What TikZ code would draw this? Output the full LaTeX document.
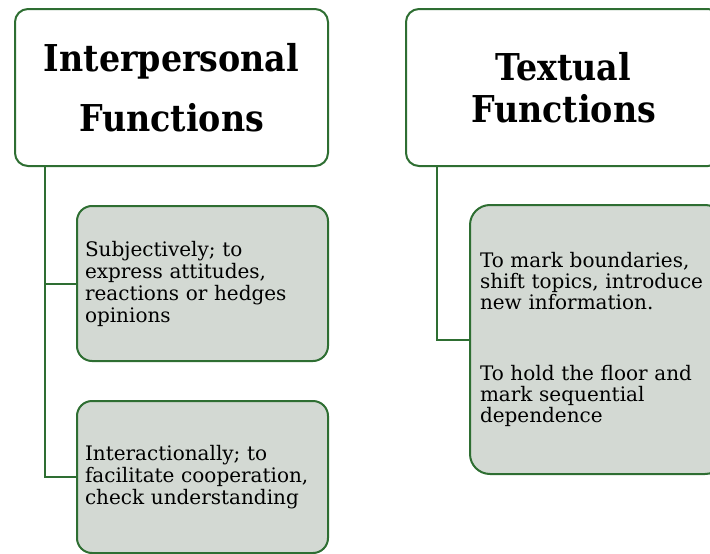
\documentclass[tikz,border=0pt]{standalone}
\usepackage{fontspec}
\setmainfont{DejaVu Serif}
\newfontfamily\headfont{DejaVu Serif Condensed}
\definecolor{edgegreen}{HTML}{2E6E32}
\definecolor{leaffill}{HTML}{D3D9D3}
\begin{document}
\begin{tikzpicture}[x=1pt,y=-1pt,
  headbox/.style={draw=edgegreen,line width=2pt,rounded corners=13pt,fill=white,
    anchor=north west,inner sep=0pt,align=center,
    font=\headfont\bfseries\fontsize{37}{60}\selectfont},
  leafbox/.style={draw=edgegreen,line width=2pt,rounded corners=15pt,fill=leaffill,
    anchor=north west,inner xsep=8pt,inner ysep=0pt,align=left,
    font=\fontsize{20}{22}\selectfont},
  link/.style={draw=edgegreen,line width=2pt}]
  \useasboundingbox (0,0) rectangle (710,554);
  % top-level boxes
  \node[headbox,minimum width=313pt,minimum height=157pt] (h1) at (14,8)
    {Interpersonal\\Functions};
  \node[headbox,minimum width=315pt,minimum height=157pt,
    font=\headfont\bfseries\fontsize{37}{42}\selectfont] (h2) at (405,8)
    {Textual\\Functions};
  % leaf boxes
  \node[leafbox,minimum width=251pt,minimum height=155pt,text width=235pt] (c1) at (76,205)
    {Subjectively; to\\express attitudes,\\reactions or hedges\\opinions};
  \node[leafbox,minimum width=251pt,minimum height=152pt,text width=235pt] (c2) at (76,400)
    {Interactionally; to\\facilitate cooperation,\\check understanding};
  \node[leafbox,minimum width=251pt,minimum height=269pt,text width=235pt,
    rounded corners=20pt,inner xsep=10pt,font=\fontsize{20}{21}\selectfont] (c3) at (469,204)
    {To mark boundaries,\\shift topics, introduce\\new information.\\[50pt]
     To hold the floor and\\mark sequential\\dependence};
  % connectors
  \coordinate (t1) at (45,165);
  \coordinate (t2) at (437,165);
  \draw[link] (t1) |- (c2.west);
  \draw[link] (t1 |- c1.west) -- (c1.west);
  \draw[link] (t2) |- (c3.west);
\end{tikzpicture}
\end{document}
